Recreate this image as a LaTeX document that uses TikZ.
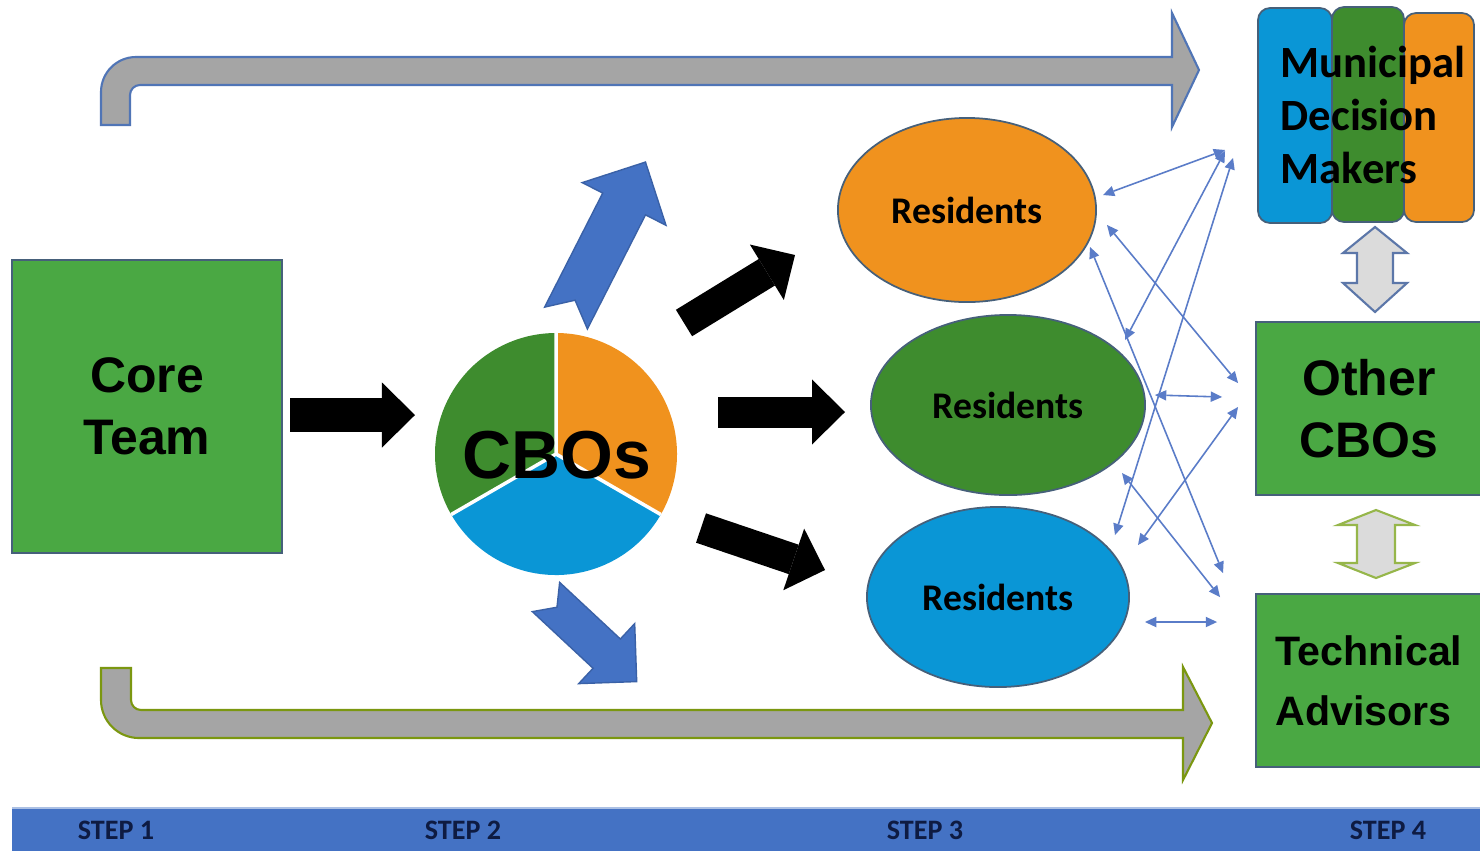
\documentclass[tikz,border=0pt]{standalone}
\usepackage{fontspec}
\setmainfont{Liberation Sans}
\newfontfamily\calfont{Carlito}
\usetikzlibrary{shapes,arrows.meta}

\definecolor{boxgreen}{HTML}{4AA843}
\definecolor{darkgreen}{HTML}{3E8C2E}
\definecolor{orng}{HTML}{F0921E}
\definecolor{skyblue}{HTML}{0A96D6}
\definecolor{arrowblue}{HTML}{4472C4}
\definecolor{linkblue}{HTML}{5A7CC8}
\definecolor{bentgray}{HTML}{A5A5A5}
\definecolor{edgegray}{HTML}{46607A}
\definecolor{navy}{HTML}{0E1B42}

\begin{document}
\begin{tikzpicture}[x=0.01cm,y=-0.01cm]
\tikzstyle{box}=[rectangle, fill=boxgreen, draw=edgegray, line width=0.5pt,
  inner sep=0pt, align=center, font=\bfseries\fontsize{14.2}{17.5}\selectfont]
\tikzstyle{resident}=[ellipse, draw=edgegray, line width=0.5pt, inner sep=0pt,
  font=\calfont\bfseries\fontsize{10.7}{13}\selectfont]
\tikzstyle{bigarrow}=[line width=0.31cm,
  -{Triangle[length=0.33cm 0 0,width=0.65cm 0 0,line width=0pt 0 0]}]
\tikzstyle{link}=[draw=linkblue, line width=0.45pt,
  >={Triangle[length=3.2pt 0 0,width=3pt 0 0,line width=0pt 0 0]}, <->]
\tikzstyle{notched}=[fill=arrowblue, draw=arrowblue!85!black, line width=0.4pt]
\tikzstyle{updown}=[fill=gray!28, line width=0.6pt]
\tikzstyle{steplabel}=[text=navy, font=\calfont\bfseries\fontsize{8}{9}\selectfont]

\useasboundingbox[fill=white] (0,0) rectangle (1480,851);

% long bent arrows
\draw[fill=bentgray, draw=arrowblue!80!gray, line width=0.6pt]
  (101,125) -- (101,92) arc[start angle=180, end angle=270, radius=35]
  -- (1172,57) -- (1172,13) -- (1199,70) -- (1172,127) -- (1172,85)
  -- (140,85) arc[start angle=270, end angle=180, radius=10] -- (130,125) -- cycle;
\draw[fill=bentgray, draw=olive!70!green, line width=0.6pt]
  (101,668) -- (101,700) arc[start angle=180, end angle=90, radius=38]
  -- (1183,738) -- (1183,780) -- (1212,723) -- (1183,667) -- (1183,710)
  -- (141,710) arc[start angle=90, end angle=180, radius=10] -- (131,668) -- cycle;

% step 1
\node[box, minimum width=2.70cm, minimum height=2.93cm] (core) at (147,406.5) {Core\\Team};

% step 2
\coordinate (cbo) at (556,454);
\fill[darkgreen] (cbo) -- +(150:121) arc[start angle=150, end angle=270, radius=121] -- cycle;
\fill[orng] (cbo) -- +(270:121) arc[start angle=270, end angle=390, radius=121] -- cycle;
\fill[skyblue] (cbo) -- +(30:121) arc[start angle=30, end angle=150, radius=121] -- cycle;
\draw[white, line width=1pt] (cbo) -- +(270:121) (cbo) -- +(150:121) (cbo) -- +(30:121);
\node[font=\bfseries\fontsize{19.3}{22}\selectfont] (cbotext) at (557,455) {CBOs};

\coordinate (coretail) at (290,415);
\coordinate (coretip) at (415,415);
\draw[bigarrow, line width=0.34cm] (coretail) -- (coretip);

\draw[notched, shift={(566,318)}, rotate=63]
  (0,-24) -- (128,-24) -- (128,-47) -- (175,0) -- (128,47) -- (128,24) -- (0,24) -- (20,0) -- cycle;
\draw[notched, shift={(546,597)}, rotate=-43]
  (0,-20) -- (83,-20) -- (83,-41) -- (124,0) -- (83,41) -- (83,20) -- (0,20) -- (15,0) -- cycle;

% step 3
\node[resident, fill=orng, minimum width=2.58cm, minimum height=1.84cm] (res1) at (967,210) {Residents};
\node[resident, fill=darkgreen, minimum width=2.74cm, minimum height=1.80cm] (res2) at (1008,405) {Residents};
\node[resident, fill=skyblue, minimum width=2.62cm, minimum height=1.80cm] (res3) at (998,597) {Residents};

\coordinate (up1) at (684,323);
\coordinate (up2) at (795,255);
\coordinate (mid1) at (718,412);
\coordinate (mid2) at (845,412);
\coordinate (low1) at (701,528);
\coordinate (low2) at (825,570);
\draw[bigarrow] (up1) -- (up2);
\draw[bigarrow] (mid1) -- (mid2);
\draw[bigarrow] (low1) -- (low2);

% links to step 4
\coordinate (l1) at (1103,195);  \coordinate (m1) at (1225,150);
\coordinate (l2) at (1115,535);  \coordinate (m2) at (1233,158);
\coordinate (l3) at (1125,340);  \coordinate (m3) at (1225,151);
\coordinate (l4) at (1107,225);  \coordinate (m4) at (1238,383);
\coordinate (l5) at (1090,247);  \coordinate (m5) at (1223,573);
\coordinate (l6) at (1155,395);  \coordinate (m6) at (1222,397);
\coordinate (l7) at (1138,545);  \coordinate (m7) at (1238,407);
\coordinate (l8) at (1122,473);  \coordinate (m8) at (1220,597);
\coordinate (l9) at (1145,622);  \coordinate (m9) at (1217,622);
\draw[link] (l1) -- (m1);
\draw[link] (l2) -- (m2);
\draw[link] (l3) -- (m3);
\draw[link] (l4) -- (m4);
\draw[link] (l5) -- (m5);
\draw[link] (l6) -- (m6);
\draw[link] (l7) -- (m7);
\draw[link] (l8) -- (m8);
\draw[link] (l9) -- (m9);

% step 4
\draw[rounded corners=0.12cm, fill=skyblue, draw=edgegray, line width=0.5pt] (1258,8) rectangle (1332,223);
\draw[rounded corners=0.12cm, fill=darkgreen, draw=edgegray, line width=0.5pt] (1332,7) rectangle (1404,222);
\draw[rounded corners=0.12cm, fill=orng, draw=edgegray, line width=0.5pt] (1404,13) rectangle (1474,222);
\node[align=left, font=\calfont\bfseries\fontsize{12.7}{15.1}\selectfont] (mdm) at (1373,115)
  {Municipal\\Decision\\Makers};

\node[box, minimum width=2.26cm, minimum height=1.73cm] (others) at (1369,408.5) {Other\\CBOs};
\node[box, minimum width=2.26cm, minimum height=1.73cm, align=left,
  font=\bfseries\fontsize{11.7}{17}\selectfont] (techadv) at (1369,680.5) {Technical\\Advisors};

\draw[updown, draw=arrowblue!60!gray]
  (1375,227) -- (1407,253) -- (1393,253) -- (1393,283) -- (1407,283) -- (1375,312)
  -- (1343,283) -- (1357,283) -- (1357,253) -- (1343,253) -- cycle;
\draw[updown, draw=olive!60!green!70!white]
  (1376,510) -- (1415,525) -- (1395,525) -- (1395,563) -- (1415,563) -- (1376,578)
  -- (1338,563) -- (1357,563) -- (1357,525) -- (1338,525) -- cycle;

% step bar
\fill[arrowblue] (12,808) rectangle (1480,851);
\draw[arrowblue!45, line width=0.8pt] (12,808) -- (1480,808);
\node[steplabel] (step1) at (116,830) {STEP 1};
\node[steplabel] (step2) at (463,830) {STEP 2};
\node[steplabel] (step3) at (925,830) {STEP 3};
\node[steplabel] (step4) at (1388,830) {STEP 4};
\end{tikzpicture}
\end{document}
